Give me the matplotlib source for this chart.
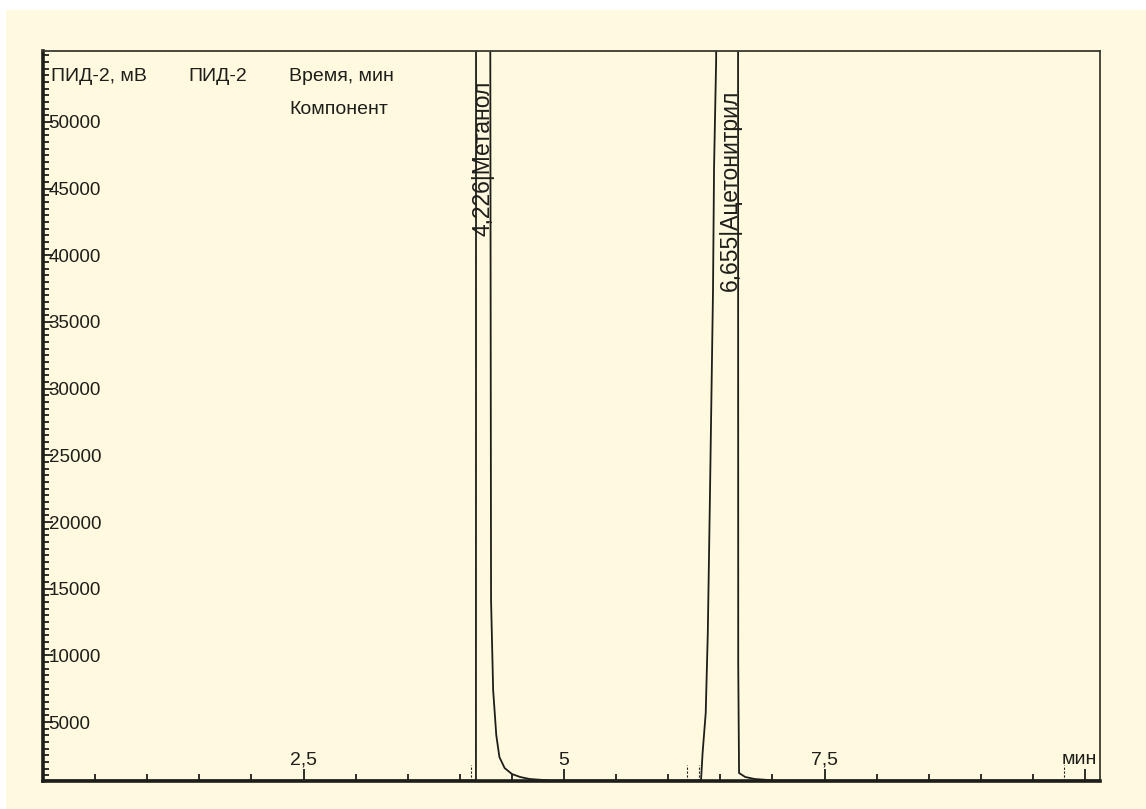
import matplotlib
matplotlib.use("Agg")
import matplotlib.pyplot as plt
from matplotlib.patches import Rectangle
from matplotlib.ticker import MultipleLocator, FixedLocator

# ---- data ----
time_min = [0.0, 4.155, 4.156, 4.29, 4.30, 4.32, 4.35, 4.38, 4.43, 4.50, 4.58, 4.67, 4.87,
            6.315, 6.33, 6.36, 6.38, 6.40, 6.43, 6.44, 6.46, 6.47, 6.67, 6.672, 6.68, 6.74,
            6.83, 7.03, 10.2]
signal_mv = [620, 620, 70000, 70000, 14135, 7396, 4027, 2380, 1556, 1107, 882, 732, 620,
             620, 2679, 5674, 11664, 21622, 37346, 46555, 54567, 70000, 70000, 9418, 1181, 882,
             732, 620, 620]

peak_times = [4.226, 6.655]
peak_names = ["Метанол", "Ацетонитрил"]
peak_label_x = [4.226, 6.60]
peak_label_y = [41470, 37350]

event_marks = [4.11, 6.18, 6.30, 9.8]

x_major = [2.5, 5, 7.5, 10]
x_major_labels = ["2,5", "5", "7,5", ""]
y_major = list(range(5000, 55000, 5000))
y_major_labels = [str(v) for v in y_major]

header_texts = ["ПИД-2, мВ", "ПИД-2", "Время, мин", "Компонент"]

# ---- style ----
bg = "#FEF9DF"
ink = "#1e1e1a"
fam = ["Liberation Sans Narrow", "Liberation Sans", "DejaVu Sans"]
wide = ["Liberation Sans", "DejaVu Sans"]
plt.rcParams["font.family"] = fam

fig = plt.figure(figsize=(11.46, 8.09), dpi=100, facecolor="white")
fig.patches.append(Rectangle((6 / 1146, 0), 1, 1 - 10 / 809, transform=fig.transFigure,
                             facecolor=bg, edgecolor="none", zorder=-10))

L, R, T, B = 43, 1100, 51, 781
ax = fig.add_axes([L / 1146, 1 - B / 809, (R - L) / 1146, (B - T) / 809])
ax.set_facecolor(bg)

ax.plot(time_min, signal_mv, color=ink, lw=1.3, solid_joinstyle="miter")

ax.set_xlim(0, (R - L) / 104.2)
ax.set_ylim(583, 55316)

# spines
for s in ["left", "bottom"]:
    ax.spines[s].set_linewidth(2.6)
    ax.spines[s].set_color(ink)
for s in ["top", "right"]:
    ax.spines[s].set_linewidth(1.3)
    ax.spines[s].set_color("#3a3a30")

# ticks
ax.xaxis.set_major_locator(FixedLocator(x_major))
ax.set_xticklabels(x_major_labels)
ax.xaxis.set_minor_locator(MultipleLocator(0.5))
ax.yaxis.set_major_locator(FixedLocator(y_major))
ax.set_yticklabels(y_major_labels)
ax.yaxis.set_minor_locator(MultipleLocator(500))

ax.tick_params(axis="x", which="major", direction="in", length=9, width=1.3, color=ink,
               pad=-21, labelsize=14, labelcolor=ink)
ax.tick_params(axis="x", which="minor", direction="in", length=5, width=1.3, color=ink)
ax.tick_params(axis="y", which="major", direction="in", length=7, width=1.3, color=ink,
               pad=-4, labelsize=13.5, labelcolor=ink)
ax.tick_params(axis="y", which="minor", direction="in", length=4, width=1.3, color=ink)
for lab in ax.get_yticklabels():
    lab.set_horizontalalignment("left")
for lab in ax.get_xticklabels():
    lab.set_verticalalignment("top")

# integration event markers
for t in event_marks:
    ax.plot([t, t], [583, 1800], color=ink, lw=0.8, ls=(0, (2, 1.5)))

# peak labels
for t, n, lx, ly in zip(peak_times, peak_names, peak_label_x, peak_label_y):
    lbl = f"{t:.3f}".replace(".", ",") + "|" + n
    ax.text(lx, ly, lbl, rotation=90, ha="center", va="bottom", fontsize=16.5,
            family=wide, color=ink, clip_on=True)

# header texts
ax.text(0.008, 0.965, header_texts[0], transform=ax.transAxes, fontsize=14, color=ink,
        va="center", ha="left")
ax.text(0.138, 0.965, header_texts[1], transform=ax.transAxes, fontsize=14, color=ink,
        va="center", ha="left")
ax.text(0.233, 0.965, header_texts[2], transform=ax.transAxes, fontsize=14, color=ink,
        va="center", ha="left")
ax.text(0.233, 0.920, header_texts[3], transform=ax.transAxes, fontsize=14, color=ink,
        va="center", ha="left")

ax.text(0.997, 0.029, "мин", transform=ax.transAxes, fontsize=14, color=ink,
        va="center", ha="right")

fig.savefig("out.png", dpi=100, facecolor=fig.get_facecolor())
